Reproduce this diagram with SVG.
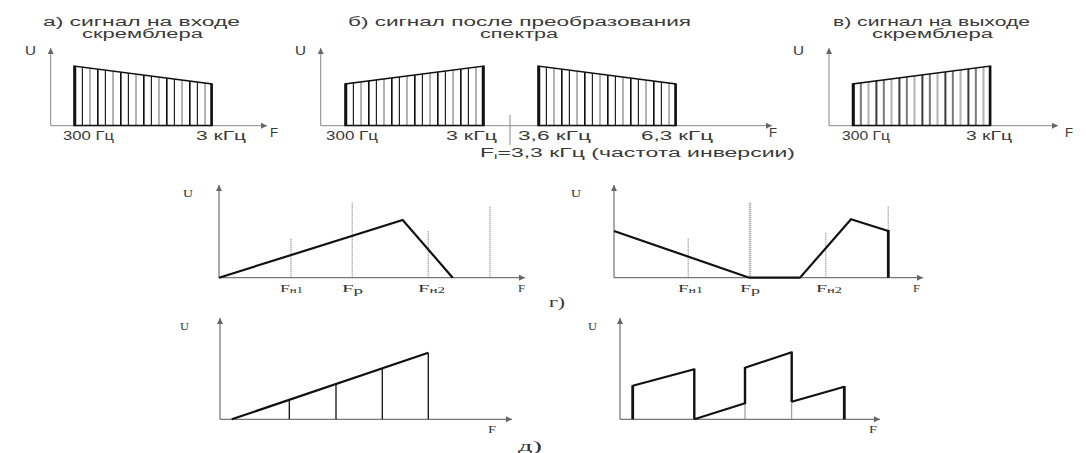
<svg xmlns="http://www.w3.org/2000/svg" width="1086" height="453" viewBox="0 0 1086 453">
<style>
.bg{fill:#fff}
.t{font-family:"Liberation Sans",Arial,sans-serif;fill:#3a3a3a;font-size:12px}
.l{font-family:"Liberation Sans",Arial,sans-serif;fill:#3a3a3a;font-size:12px}
.s{font-family:"Liberation Serif","Times New Roman",serif;fill:#333;font-size:11px}
.sub{font-size:8px}
.subp{font-size:10px}
.big{font-size:15px}
.ax{stroke:#888;stroke-width:1;fill:none}
.ax2{stroke:#555;stroke-width:1;fill:none}
.blk{fill:url(#hatch);stroke:#111;stroke-width:1.5}
.edge{stroke:#111;stroke-width:2.5}
.dot{stroke:#999;stroke-width:1.5;stroke-dasharray:1 1;fill:none}
.dotb{stroke:#999;stroke-width:2.5;stroke-dasharray:1 1;fill:none}
.cur{stroke:#111;stroke-width:2.2;fill:none;stroke-linejoin:miter}
.thin{stroke:#111;stroke-width:1.3}
.thk{stroke:#111;stroke-width:2.8}
.mid{stroke:#111;stroke-width:2.4}
.gl{stroke:#888;stroke-width:1}
</style>
<defs>
<pattern id="hatch" patternUnits="userSpaceOnUse" x="0" y="0" width="23" height="200">
<line x1="0.8" y1="-10" x2="0.8" y2="200" stroke="#111" stroke-width="1.7"/>
<line x1="8.4" y1="-10" x2="8.4" y2="200" stroke="#222" stroke-width="1.2"/>
<line x1="16" y1="-10" x2="16" y2="200" stroke="#8a8a8a" stroke-width="1.3"/>
</pattern>
<marker id="arr" markerUnits="userSpaceOnUse" markerWidth="7" markerHeight="6" refX="6" refY="3" orient="auto">
<path d="M0,0 L6,3 L0,6 Z" fill="#666"/>
</marker>
</defs>
<rect class="bg" x="0" y="0" width="1086" height="453"/>

<g id="panel-a">
<text class="t" x="43" y="25.5" textLength="197" lengthAdjust="spacingAndGlyphs">а) сигнал на входе</text>
<text class="t" x="82" y="37.5" textLength="121" lengthAdjust="spacingAndGlyphs">скремблера</text>
<text class="l" x="25" y="55" textLength="11" lengthAdjust="spacingAndGlyphs">U</text>
<line class="ax" x1="50.7" y1="125.7" x2="50.7" y2="48" marker-end="url(#arr)"/>
<line class="ax" x1="50.7" y1="125.7" x2="267" y2="125.7" marker-end="url(#arr)"/>
<g transform="translate(74,125.5)">
<polygon class="blk" points="0,0 0,-59.5 138,-41.5 138,0"/>
<line class="edge" x1="1" y1="0" x2="1" y2="-59.5"/>
<line class="edge" x1="137.5" y1="0" x2="137.5" y2="-41.5"/>
</g>
<text class="l" x="63" y="139.5" textLength="51" lengthAdjust="spacingAndGlyphs">300 Гц</text>
<text class="l" x="196" y="139.5" textLength="50" lengthAdjust="spacingAndGlyphs">3 кГц</text>
<text class="l" x="270" y="137" textLength="8" lengthAdjust="spacingAndGlyphs">F</text>
</g>

<g id="panel-b">
<text class="t" x="348" y="25.5" textLength="343" lengthAdjust="spacingAndGlyphs">б) сигнал после преобразования</text>
<text class="t" x="480" y="37.5" textLength="78" lengthAdjust="spacingAndGlyphs">спектра</text>
<text class="l" x="295" y="55" textLength="11" lengthAdjust="spacingAndGlyphs">U</text>
<line class="ax" x1="320.7" y1="125.7" x2="320.7" y2="48" marker-end="url(#arr)"/>
<line class="ax" x1="320.7" y1="125.7" x2="772" y2="125.7" marker-end="url(#arr)"/>
<g transform="translate(345,125.5)">
<polygon class="blk" points="0,0 0,-41.5 139,-59.5 139,0"/>
<line class="edge" x1="1" y1="0" x2="1" y2="-41.5"/>
<line class="edge" x1="138" y1="0" x2="138" y2="-59.5"/>
</g>
<g transform="translate(538,125.5)">
<polygon class="blk" points="0,0 0,-59.5 138,-41.5 138,0"/>
<line class="edge" x1="1" y1="0" x2="1" y2="-59.5"/>
<line class="edge" x1="137.5" y1="0" x2="137.5" y2="-41.5"/>
</g>
<line class="gl" x1="510" y1="115" x2="510" y2="145"/>
<text class="l" x="326" y="139.5" textLength="52" lengthAdjust="spacingAndGlyphs">300 Гц</text>
<text class="l" x="446" y="139.5" textLength="51" lengthAdjust="spacingAndGlyphs">3 кГц</text>
<text class="l" x="518" y="139.5" textLength="73" lengthAdjust="spacingAndGlyphs">3,6 кГц</text>
<text class="l" x="641" y="139.5" textLength="72" lengthAdjust="spacingAndGlyphs">6,3 кГц</text>
<text class="l" x="769" y="137" textLength="8" lengthAdjust="spacingAndGlyphs">F</text>
<text class="l" x="480" y="157" textLength="315" lengthAdjust="spacingAndGlyphs">F<tspan class="sub" dy="2">i</tspan><tspan dy="-2">=3,3 кГц (частота инверсии)</tspan></text>
</g>

<g id="panel-g-left">
<text class="s" x="183" y="197" textLength="10" lengthAdjust="spacingAndGlyphs">U</text>
<line class="dot" x1="291" y1="277.7" x2="291" y2="237.7"/>
<line class="dot" x1="352.3" y1="277.7" x2="352.3" y2="201.7"/>
<line class="dot" x1="428.3" y1="277.7" x2="428.3" y2="231"/>
<line class="dot" x1="490" y1="277.7" x2="490" y2="206.7"/>
<line class="ax2" x1="219" y1="277.7" x2="219" y2="185" marker-end="url(#arr)"/>
<line class="ax2" x1="219" y1="277.7" x2="525" y2="277.7" marker-end="url(#arr)"/>
<polyline class="cur" points="219,277.7 402.7,220 452.7,277.7"/>
<text class="s" x="280" y="291.5" textLength="23" lengthAdjust="spacingAndGlyphs">F<tspan class="sub" dy="1">н1</tspan></text>
<text class="s" x="342" y="291.5" textLength="21" lengthAdjust="spacingAndGlyphs">F<tspan class="subp" dy="2">р</tspan></text>
<text class="s" x="418" y="291.5" textLength="27" lengthAdjust="spacingAndGlyphs">F<tspan class="sub" dy="1">н2</tspan></text>
<text class="s" x="518" y="291.5" textLength="7" lengthAdjust="spacingAndGlyphs">F</text>
</g>

<g id="panel-c">
<text class="t" x="833" y="25.5" textLength="197" lengthAdjust="spacingAndGlyphs">в) сигнал на выходе</text>
<text class="t" x="872" y="37.5" textLength="121" lengthAdjust="spacingAndGlyphs">скремблера</text>
<text class="l" x="793" y="55" textLength="11" lengthAdjust="spacingAndGlyphs">U</text>
<line class="ax" x1="829" y1="125.7" x2="829" y2="48" marker-end="url(#arr)"/>
<line class="ax" x1="829" y1="125.7" x2="1058" y2="125.7" marker-end="url(#arr)"/>
<g transform="translate(852.5,125.5)">
<polygon class="blk" points="0,0 0,-41.5 138,-59.5 138,0"/>
<line class="edge" x1="1" y1="0" x2="1" y2="-41.5"/>
<line class="edge" x1="137.5" y1="0" x2="137.5" y2="-59.5"/>
</g>
<text class="l" x="842" y="139.5" textLength="48" lengthAdjust="spacingAndGlyphs">300 Гц</text>
<text class="l" x="966" y="139.5" textLength="46" lengthAdjust="spacingAndGlyphs">3 кГц</text>
<text class="l" x="1065" y="137" textLength="8" lengthAdjust="spacingAndGlyphs">F</text>
</g>

<g id="panel-g-right">
<text class="s" x="571" y="197" textLength="10" lengthAdjust="spacingAndGlyphs">U</text>
<line class="dot" x1="688.3" y1="277.7" x2="688.3" y2="237.7"/>
<line class="dotb" x1="750" y1="277.7" x2="750" y2="201.7"/>
<line class="dot" x1="825.7" y1="277.7" x2="825.7" y2="231.7"/>
<line class="dot" x1="888.3" y1="277.7" x2="888.3" y2="206.7"/>
<line class="ax2" x1="614" y1="277.7" x2="614" y2="185" marker-end="url(#arr)"/>
<line class="ax2" x1="614" y1="277.7" x2="923" y2="277.7" marker-end="url(#arr)"/>
<polyline class="cur" points="614,231 749.3,277.7 800,277.7 851,219.3 888.3,231"/>
<line class="thk" x1="888.3" y1="230" x2="888.3" y2="277.7"/>
<text class="s" x="678" y="291.5" textLength="25" lengthAdjust="spacingAndGlyphs">F<tspan class="sub" dy="1">н1</tspan></text>
<text class="s" x="740" y="291.5" textLength="20" lengthAdjust="spacingAndGlyphs">F<tspan class="subp" dy="2">р</tspan></text>
<text class="s" x="816" y="291.5" textLength="26" lengthAdjust="spacingAndGlyphs">F<tspan class="sub" dy="1">н2</tspan></text>
<text class="s" x="913" y="291.5" textLength="7" lengthAdjust="spacingAndGlyphs">F</text>
<text class="s big" x="549" y="307" textLength="16" lengthAdjust="spacingAndGlyphs">г)</text>
</g>

<g id="panel-d-left">
<text class="s" x="180" y="330" textLength="9" lengthAdjust="spacingAndGlyphs">U</text>
<line class="ax2" x1="220" y1="419.3" x2="220" y2="318" marker-end="url(#arr)"/>
<line class="ax2" x1="220" y1="419.3" x2="512" y2="419.3" marker-end="url(#arr)"/>
<line class="thin" x1="289.3" y1="419.3" x2="289.3" y2="399"/>
<line class="thin" x1="336" y1="419.3" x2="336" y2="384.5"/>
<line class="thin" x1="382.3" y1="419.3" x2="382.3" y2="369"/>
<line class="thin" x1="428.3" y1="419.3" x2="428.3" y2="352.7"/>
<line class="cur" x1="231.7" y1="419.3" x2="428.3" y2="352.7"/>
<text class="s" x="488" y="433" textLength="8" lengthAdjust="spacingAndGlyphs">F</text>
<text class="s big" x="518" y="451" textLength="24" lengthAdjust="spacingAndGlyphs">д)</text>
</g>

<g id="panel-d-right">
<text class="s" x="588" y="330" textLength="9" lengthAdjust="spacingAndGlyphs">U</text>
<line class="ax2" x1="620" y1="419.3" x2="620" y2="318" marker-end="url(#arr)"/>
<line class="ax2" x1="620" y1="419.3" x2="880" y2="419.3" marker-end="url(#arr)"/>
<line class="gl" x1="745" y1="419.3" x2="745" y2="403"/>
<line class="gl" x1="791.7" y1="419.3" x2="791.7" y2="401.7"/>
<line class="thk" x1="632.7" y1="419.3" x2="632.7" y2="385.2"/>
<line class="cur" x1="632.7" y1="385.7" x2="694.3" y2="369.3"/>
<line class="mid" x1="694.3" y1="368.5" x2="694.3" y2="419.3"/>
<line class="cur" x1="694.3" y1="419.3" x2="745" y2="403.3"/>
<line class="mid" x1="745" y1="404" x2="745" y2="367"/>
<line class="cur" x1="745" y1="367.7" x2="791.7" y2="352.3"/>
<line class="mid" x1="791.7" y1="351.5" x2="791.7" y2="402"/>
<line class="cur" x1="791.7" y1="401.7" x2="844.3" y2="386.7"/>
<line class="thk" x1="844.3" y1="386" x2="844.3" y2="419.3"/>
<text class="s" x="869" y="433" textLength="8" lengthAdjust="spacingAndGlyphs">F</text>
</g>
</svg>
